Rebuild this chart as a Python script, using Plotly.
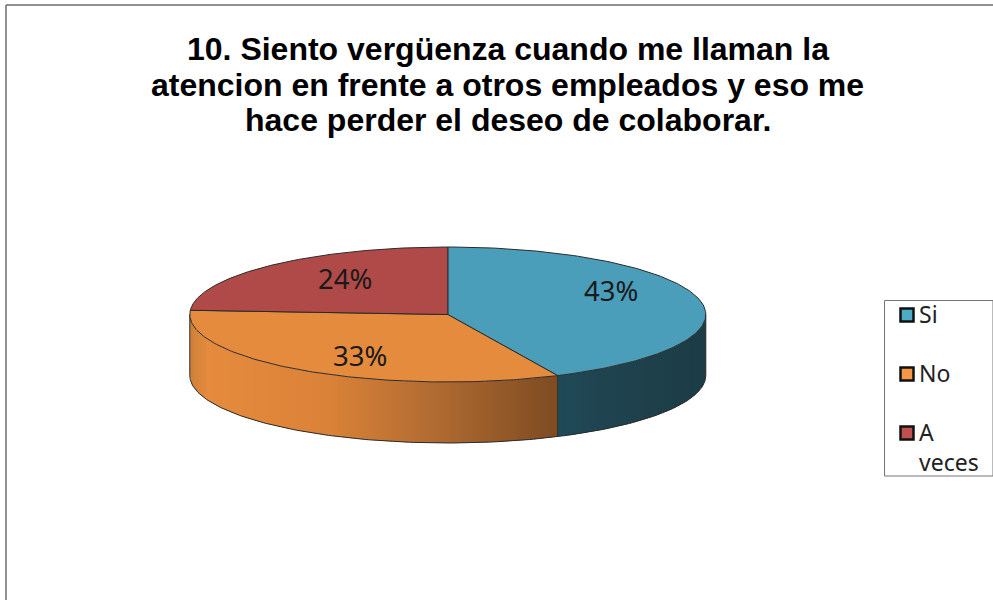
import numpy as np
import plotly.graph_objects as go

categories = ["Si", "No", "A<br>veces"]
values = [43, 33, 24]
title_lines = ["10. Siento vergüenza cuando me llaman la",
               "atencion en frente a otros empleados y eso me",
               "hace perder el deseo de colaborar."]

top_colors = ["#4A9EB9", "#E58B3D", "#B04A48"]
swatch_colors = ["#4BACC6", "#F79646", "#C0504D"]
OUTLINE = "#2b2b2b"

cx, cy, rx, ry, depth = 447.8, 314.5, 258.0, 67.5, 61.0


def pt(theta_deg, dy=0.0):
    t = np.radians(theta_deg)
    return cx + rx * np.sin(t), cy - ry * np.cos(t) + dy


def lerp_color(stops, x):
    xs = [s[0] for s in stops]
    rgb = [np.interp(x, xs, [s[1][i] for s in stops]) for i in range(3)]
    return "rgb(%d,%d,%d)" % tuple(int(round(v)) for v in rgb)


wall_stops = [
    [(558, (31, 74, 88)), (600, (31, 68, 80)), (706, (28, 60, 70))],
    [(190, (205, 128, 56)), (208, (229, 139, 61)), (330, (218, 130, 56)),
     (430, (178, 108, 50)), (557, (126, 76, 34))],
]

fig = go.Figure()
fracs = np.array(values, dtype=float) / sum(values)
edges = np.concatenate([[0.0], np.cumsum(fracs) * 360.0])


def add_poly(xs, ys, fill, line_color, width):
    fig.add_trace(go.Scatter(x=xs, y=ys, mode="lines", fill="toself", fillcolor=fill,
                             line=dict(color=line_color, width=width),
                             hoverinfo="skip", showlegend=False))


# visible front wall, drawn as overlapping narrow strips for the shading
for i, stops in enumerate(wall_stops):
    a0, a1 = max(edges[i], 90.0), min(edges[i + 1], 270.0)
    x0, x1 = sorted([pt(a0)[0], pt(a1)[0]])
    strips = np.arange(x0, x1 + 4, 4.0)
    strips[-1] = x1
    for left, right in zip(strips[:-1], strips[1:]):
        xs = np.linspace(left, min(right + 2, x1), 5)
        arc = cy + ry * np.sqrt(np.clip(1 - ((xs - cx) / rx) ** 2, 0, 1))
        px = np.concatenate([xs, xs[::-1], xs[:1]])
        py = np.concatenate([arc, arc[::-1] + depth, arc[:1]])
        c = lerp_color(stops, (left + right) / 2)
        add_poly(px, py, c, c, 0)

# wall outlines
theta = np.linspace(90, 270, 200)
wx, wy = pt(theta, depth)
fig.add_trace(go.Scatter(x=wx, y=wy, mode="lines", line=dict(color=OUTLINE, width=1),
                         hoverinfo="skip", showlegend=False))
for a in [90.0, 270.0, edges[1]]:
    ex, ey = pt(a)
    fig.add_trace(go.Scatter(x=[ex, ex], y=[ey, ey + depth], mode="lines",
                             line=dict(color=OUTLINE, width=1),
                             hoverinfo="skip", showlegend=False))

# top face slices
for i in range(len(values)):
    th = np.linspace(edges[i], edges[i + 1], 160)
    ax, ay = pt(th)
    add_poly(np.concatenate([[cx], ax, [cx]]), np.concatenate([[cy], ay, [cy]]),
             top_colors[i], OUTLINE, 1)

# legend swatches
legend_y = [315, 374, 433]
for i, c in enumerate(swatch_colors):
    fig.add_trace(go.Scatter(x=[907], y=[legend_y[i]], mode="markers",
                             marker=dict(symbol="square", size=13, color=c,
                                         line=dict(color="#111111", width=2.5)),
                             hoverinfo="skip", showlegend=False))

annotations = []
title_y = [49, 84.5, 120]
for line, ly in zip(title_lines, title_y):
    annotations.append(dict(x=507.5, y=ly, text=f"<b>{line}</b>", showarrow=False,
                            xanchor="center", yanchor="middle",
                            font=dict(family="Liberation Sans", size=32, color="#000000")))
label_pos = [(610.5, 290), (360, 355), (345, 278)]
for v, (lx, ly) in zip(values, label_pos):
    annotations.append(dict(x=lx, y=ly, text=f"{v}%", showarrow=False, xanchor="center",
                            yanchor="middle",
                            font=dict(family="Noto Sans", size=27.5, color="#1a1a1a")))
legend_text_y = [314, 373, 447]
for name, ly in zip(categories, legend_text_y):
    annotations.append(dict(x=917, y=ly, text=name, showarrow=False, xanchor="left",
                            yanchor="middle", align="left",
                            font=dict(family="Noto Sans", size=23, color="#222222")))

shapes = [
    dict(type="line", x0=6, x1=6, y0=5, y1=600, line=dict(color="#6b6b6b", width=1.5)),
    dict(type="line", x0=6, x1=993, y0=5, y1=5, line=dict(color="#6b6b6b", width=1.5)),
    dict(type="rect", x0=884.5, x1=993, y0=300.5, y1=476, line=dict(color="#777777", width=1),
         fillcolor="white", layer="below"),
]

fig.update_layout(
    width=993, height=600, margin=dict(l=0, r=0, t=0, b=0),
    paper_bgcolor="white", plot_bgcolor="white", showlegend=False,
    xaxis=dict(range=[0, 993], visible=False, fixedrange=True),
    yaxis=dict(range=[600, 0], visible=False, fixedrange=True),
    annotations=annotations, shapes=shapes,
)
fig.write_html("out.html", config=dict(displayModeBar=False),
               post_script="document.body.style.margin='0';document.body.style.overflow='hidden';")
